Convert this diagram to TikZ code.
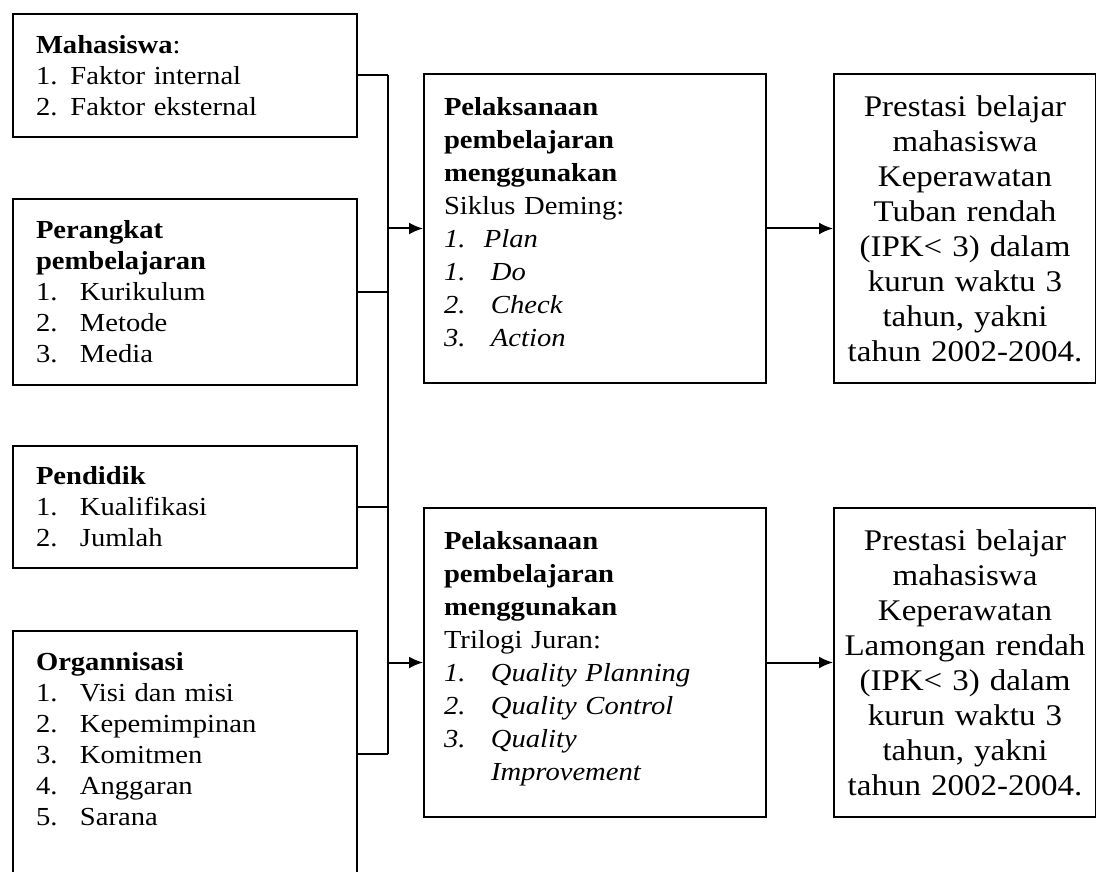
\documentclass[tikz,border=0pt]{standalone}
\usepackage{fontspec}
\setmainfont{Liberation Serif}[FakeStretch=1.1]
\usetikzlibrary{arrows.meta}

% numbered list item with tab-like gap
\newcommand{\litem}[3][44pt]{\makebox[#1][l]{#2}#3}

\begin{document}
\begin{tikzpicture}[x=1pt,y=-1pt,>={Latex[length=14pt,width=12pt]},
  every node/.style={font=\fontsize{26}{31}\selectfont},
  box/.style={draw,line width=2pt,anchor=north west,inner ysep=0pt},
  leftbox/.style={box,text width=298pt,inner xsep=23pt,align=left},
  midbox/.style={box,text width=302pt,inner xsep=20pt,align=left,minimum height=309pt,
    font=\fontsize{26}{33}\selectfont},
  outbox/.style={box,text width=258pt,inner xsep=2pt,align=center,minimum height=309pt,
    font=\fontsize{30}{35}\selectfont},
  line/.style={line width=2pt}]
\clip (0,0) rectangle (1096,872);
\fill[white] (0,0) rectangle (1096,872);

% input factors
\node[leftbox,minimum height=123pt] (mhs) at (12,13)
  {\textbf{Mahasiswa}:\\1. Faktor internal\\2. Faktor eksternal};
\node[leftbox,minimum height=186pt] (prk) at (12,198)
  {\textbf{Perangkat}\\\textbf{pembelajaran}\\\litem{1.}{Kurikulum}\\\litem{2.}{Metode}\\\litem{3.}{Media}};
\node[leftbox,minimum height=122pt] (pdk) at (12,445)
  {\textbf{Pendidik}\\\litem{1.}{Kualifikasi}\\\litem{2.}{Jumlah}};
\node[leftbox,minimum height=246pt] (org) at (12,630)
  {\textbf{Organnisasi}\\\litem{1.}{Visi dan misi}\\\litem{2.}{Kepemimpinan}\\\litem{3.}{Komitmen}\\\litem{4.}{Anggaran}\\\litem{5.}{Sarana}\\\mbox{}};

% learning process
\node[midbox] (dem) at (423,73)
  {\textbf{Pelaksanaan}\\\textbf{pembelajaran}\\\textbf{menggunakan}\\Siklus Deming:\\
   \textit{\litem[40pt]{1.}{Plan}}\\\textit{\litem[47pt]{1.}{Do}}\\\textit{\litem[47pt]{2.}{Check}}\\\textit{\litem[47pt]{3.}{Action}}\rule[-14pt]{0pt}{14pt}};
\node[midbox] (jur) at (423,507)
  {\textbf{Pelaksanaan}\\\textbf{pembelajaran}\\\textbf{menggunakan}\\Trilogi Juran:\\
   \textit{\litem[47pt]{1.}{Quality Planning}}\\\textit{\litem[47pt]{2.}{Quality Control}}\\\textit{\litem[47pt]{3.}{Quality}}\\\textit{\litem[47pt]{}{Improvement}}\rule[-14pt]{0pt}{14pt}};

% outcomes
\node[outbox] (tub) at (833,73)
  {Prestasi belajar\\mahasiswa\\Keperawatan\\Tuban rendah\\(IPK< 3) dalam\\kurun waktu 3\\tahun, yakni\\tahun 2002-2004.};
\node[outbox] (lam) at (833,507)
  {Prestasi belajar\\mahasiswa\\Keperawatan\\Lamongan rendah\\(IPK< 3) dalam\\kurun waktu 3\\tahun, yakni\\tahun 2002-2004.};

% connectors
\coordinate (bus) at (388,0);
\draw[line] (mhs.east) -- (mhs.east -| bus);
\draw[line] (prk.east) -- (prk.east -| bus);
\draw[line] (pdk.east) -- (pdk.east -| bus);
\draw[line] (org.east) -- (org.east -| bus);
\draw[line] (mhs.east -| bus) -- (org.east -| bus);
\draw[line,->] (dem.west -| bus) -- (dem.west);
\draw[line,->] (jur.west -| bus) -- (jur.west);
\draw[line,->] (dem.east) -- (tub.west);
\draw[line,->] (jur.east) -- (lam.west);
\end{tikzpicture}
\end{document}
